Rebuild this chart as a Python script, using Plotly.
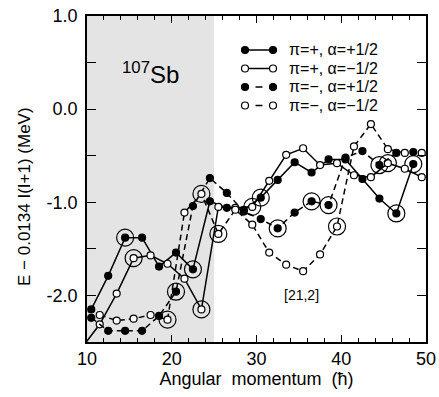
import plotly.graph_objects as go

# ---------------- data ----------------
spin_a = [10.5, 12.5, 14.5, 16.5, 18.5, 20.5, 22.5, 24.5, 26.5, 28.5,
          30.5, 32.5, 34.5, 36.5, 38.5, 40.5, 42.5, 44.5, 46.5, 48.5]
e_pos_plus = [-2.15, -1.79, -1.38, -1.38, -1.69, -1.54, -1.72, -0.99, -1.06, -1.08,
              -0.95, -0.76, -0.57, -0.68, -0.54, -0.54, -0.75, -0.96, -1.12, -0.59]

spin_b = [9.5, 11.5, 13.5, 15.5, 17.5, 19.5, 21.5, 23.5, 25.5, 27.5, 29.5,
          31.5, 33.5, 35.5, 37.5, 39.5, 41.5, 43.5, 45.5, 47.5, 49.5]
e_pos_minus = [-2.55, -2.31, -1.98, -1.60, -1.57, -1.66, -1.82, -2.15, -1.05, -1.06, -1.05,
               -0.77, -0.49, -0.42, -0.60, -0.58, -0.71, -0.73, -0.58, -0.64, -0.73]

spin_c = [10.5, 12.5, 14.5, 16.5, 18.5, 20.5, 22.5, 24.5, 26.5, 28.5,
          30.5, 32.5, 34.5, 36.5, 38.5, 40.5, 42.5, 44.5, 46.5, 48.5]
e_neg_plus = [-2.24, -2.38, -2.38, -2.38, -2.22, -1.96, -1.04, -0.74, -0.90, -1.10,
              -1.18, -1.28, -1.11, -0.99, -1.03, -0.52, -0.45, -0.60, -0.47, -0.46]

spin_d = [11.5, 13.5, 15.5, 17.5, 19.5, 21.5, 23.5, 25.5, 27.5, 29.5,
          31.5, 33.5, 35.5, 37.5, 39.5, 41.5, 43.5, 45.5, 47.5, 49.5]
e_neg_minus = [-2.21, -2.27, -2.25, -2.21, -2.26, -1.11, -0.91, -1.34, -1.08, -1.24,
               -1.54, -1.67, -1.74, -1.56, -1.26, -0.40, -0.16, -0.43, -0.47, -0.47]

# spins of the encircled states in each band
ring_a = [14.5, 22.5, 30.5, 46.5, 48.5]
ring_b = [15.5, 23.5, 29.5, 45.5]
ring_c = [20.5, 32.5, 36.5, 38.5, 44.5]
ring_d = [19.5, 23.5, 25.5, 39.5]

legend_labels = ["π=+, α=+1/2", "π=+, α=−1/2", "π=−, α=+1/2", "π=−, α=−1/2"]
x_tickvals = [10, 20, 30, 40, 50]
y_tickvals = [1.0, 0.5, 0.0, -0.5, -1.0, -1.5, -2.0]
y_ticktext = ["1.0", "", "0.0", "", "-1.0", "", "-2.0"]

FONT = "Liberation Sans, Arial, Helvetica, sans-serif"

# ---------------- figure ----------------
fig = go.Figure()

bands = [
    (spin_a, e_pos_plus, ring_a, True, "solid"),
    (spin_b, e_pos_minus, ring_b, False, "solid"),
    (spin_c, e_neg_plus, ring_c, True, "6px,4px"),
    (spin_d, e_neg_minus, ring_d, False, "6px,4px"),
]

for spins, energies, rings, filled, dash in bands:
    ry = [energies[spins.index(s)] for s in rings]
    fig.add_trace(go.Scatter(
        x=rings, y=ry, mode="markers", showlegend=False, hoverinfo="skip",
        marker=dict(symbol="circle-open", size=17, color="black",
                    line=dict(width=1.2, color="black")),
    ))

for spins, energies, rings, filled, dash in bands:
    fig.add_trace(go.Scatter(
        x=spins, y=energies, mode="lines+markers", showlegend=False,
        line=dict(color="black", width=1.5, dash=dash),
        marker=dict(symbol="circle", size=7,
                    color="black" if filled else "white",
                    line=dict(color="black", width=1.2)),
    ))

# ---------------- layout ----------------
L, R, T, B = 87, 13, 16, 55
W, H = 439, 397
pw, ph = W - L - R, H - T - B


def px(x):
    return (x - L) / pw


def py(y):
    return (H - B - y) / ph


shapes = [
    dict(type="rect", xref="x", yref="paper", x0=10, x1=25, y0=0, y1=1,
         fillcolor="#e4e4e4", line=dict(width=0), layer="below"),
]
annotations = []

rows = [50, 68.5, 87, 105.5]
lx0, lx1, tx = 245, 273, 287
styles = [(True, "solid"), (False, "solid"), (True, "dash"), (False, "dash")]
for rowy, (filled, dash), lab in zip(rows, styles, legend_labels):
    yy = py(rowy)
    if dash == "solid":
        shapes.append(dict(type="line", xref="paper", yref="paper",
                           x0=px(lx0), x1=px(lx1), y0=yy, y1=yy,
                           line=dict(color="black", width=1.5)))
    else:
        shapes.append(dict(type="line", xref="paper", yref="paper",
                           x0=px(255.5), x1=px(262.5), y0=yy, y1=yy,
                           line=dict(color="black", width=1.5)))
    for cx in (lx0, lx1):
        shapes.append(dict(type="circle", xref="paper", yref="paper",
                           xsizemode="pixel", ysizemode="pixel",
                           xanchor=px(cx), yanchor=yy,
                           x0=-3.5, x1=3.5, y0=-3.5, y1=3.5,
                           fillcolor="black" if filled else "white",
                           line=dict(color="black", width=1.2)))
    annotations.append(dict(xref="paper", yref="paper", x=px(tx), y=yy,
                            text=lab, showarrow=False, xanchor="left",
                            yanchor="middle",
                            font=dict(family=FONT, size=16, color="black")))

annotations.append(dict(xref="paper", yref="paper", x=px(150), y=py(73),
                        text="<sup>107</sup>Sb", showarrow=False,
                        xanchor="center", yanchor="middle",
                        font=dict(family=FONT, size=24, color="black")))
annotations.append(dict(xref="paper", yref="paper", x=px(301), y=py(295),
                        text="[21,2]", showarrow=False,
                        xanchor="center", yanchor="middle",
                        font=dict(family=FONT, size=14, color="black")))
# y-axis title placed as a rotated annotation so it can sit where the reference has it
annotations.append(dict(xref="paper", yref="paper", x=px(24), y=py(197),
                        text="E − 0.0134 I(I+1) (MeV)", showarrow=False,
                        textangle=-90, xanchor="center", yanchor="middle",
                        font=dict(family=FONT, size=17, color="black")))

axis_common = dict(showline=True, linecolor="black", linewidth=1.5,
                   mirror="allticks", ticks="inside", tickcolor="black",
                   tickwidth=1, showgrid=False, zeroline=False, automargin=False,
                   tickfont=dict(family=FONT, size=18, color="black"))

fig.update_layout(
    width=W, height=H,
    margin=dict(l=L, r=R, t=T, b=B, autoexpand=False),
    paper_bgcolor="white", plot_bgcolor="white",
    shapes=shapes, annotations=annotations,
    xaxis=dict(range=[10, 50], tickvals=x_tickvals, ticklen=7,
               minor=dict(dtick=2, ticklen=4, ticks="inside", tickcolor="black"),
               title=dict(text="Angular\u00a0 momentum\u00a0 (ħ)", standoff=4,
                          font=dict(family=FONT, size=18, color="black")),
               **axis_common),
    yaxis=dict(range=[-2.5, 1.0], tickvals=y_tickvals, ticktext=y_ticktext,
               ticklen=9, ticklabelstandoff=4,
               **axis_common),
)

fig.write_html("out.html")
